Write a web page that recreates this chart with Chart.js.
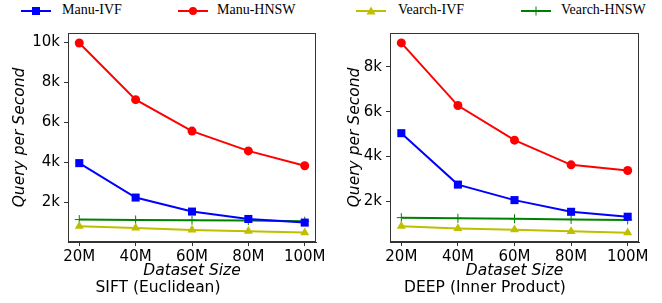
<!DOCTYPE html>
<html>
<head>
<meta charset="utf-8" />
<title>Manu vs Vearch QPS</title>
<script src="https://cdn.jsdelivr.net/npm/chart.js@4.4.0/dist/chart.umd.min.js"></script>
<style>
	body { margin: 0; background: #fff; }
	#page { position: relative; width: 662px; height: 303px; overflow: hidden; }
	.key { position: absolute; top: 0; height: 22px; font: 14px "Liberation Serif", serif; color: #000; }
	.key svg { position: absolute; left: 0; top: 5px; }
	.key span { position: absolute; top: 2px; white-space: nowrap; }
	canvas { position: absolute; top: 20px; }
</style>
</head>
<body>
<div id="page">
	<!-- legend across the top -->
	<div class="key" style="left:21px">
		<svg width="31" height="12"><line x1="0" y1="6" x2="30" y2="6" stroke="#0000ff" stroke-width="2"/><rect x="11" y="2" width="8" height="8" fill="#0000ff"/></svg>
		<span style="left:41px">Manu-IVF</span>
	</div>
	<div class="key" style="left:178px">
		<svg width="31" height="12"><line x1="0" y1="6" x2="30" y2="6" stroke="#ff0000" stroke-width="2"/><circle cx="15" cy="6" r="4" fill="#ff0000"/></svg>
		<span style="left:39px">Manu-HNSW</span>
	</div>
	<div class="key" style="left:356px">
		<svg width="31" height="12"><line x1="0" y1="6" x2="30" y2="6" stroke="#bfbf00" stroke-width="2"/><polygon points="15,1.5 19.5,9.5 10.5,9.5" fill="#bfbf00"/></svg>
		<span style="left:42px">Vearch-IVF</span>
	</div>
	<div class="key" style="left:521px">
		<svg width="31" height="12"><line x1="0" y1="6" x2="30" y2="6" stroke="#008000" stroke-width="2"/><line x1="15" y1="1.5" x2="15" y2="10.5" stroke="#008000" stroke-width="1"/></svg>
		<span style="left:40px">Vearch-HNSW</span>
	</div>

	<canvas id="sift" width="331" height="283" style="left:0px"></canvas>
	<canvas id="deep" width="331" height="283" style="left:331px"></canvas>
</div>

<script>
var sizes = [20, 40, 60, 80, 100]   // dataset size, millions

// SIFT (Euclidean)
var siftManuIVF = [3950, 2230, 1530, 1160, 980]
var siftManuHNSW = [9950, 7120, 5550, 4560, 3820]
var siftVearchIVF = [800, 710, 610, 550, 480]
var siftVearchHNSW = [1130, 1110, 1100, 1080, 1050]

// DEEP (Inner Product)
var deepManuIVF = [5040, 2750, 2060, 1540, 1320]
var deepManuHNSW = [9060, 6270, 4730, 3630, 3380]
var deepVearchIVF = [900, 800, 740, 670, 610]
var deepVearchHNSW = [1280, 1250, 1230, 1200, 1180]

var xTicks = [20, 40, 60, 80, 100]
var siftTicks = [2000, 4000, 6000, 8000, 10000]
var deepTicks = [2000, 4000, 6000, 8000]

function pts(vals) {
	return sizes.map(function (s, i) { return { x: s, y: vals[i] } })
}

function series(label, vals, color, style, r) {
	return {
		label: label,
		data: pts(vals),
		borderColor: color,
		backgroundColor: color,
		borderWidth: 2,
		pointStyle: style,
		pointRadius: r,
		pointBorderWidth: style == 'cross' ? 1 : 0,
		pointBackgroundColor: color,
		pointBorderColor: color
	}
}

// box around the plot area
var frame = {
	id: 'frame',
	afterDraw: function (chart) {
		var a = chart.chartArea, c = chart.ctx
		c.save()
		c.strokeStyle = '#333'
		c.lineWidth = 1
		c.strokeRect(a.left + 0.5, a.top + 0.5, a.right - a.left - 1, a.bottom - a.top - 1)
		c.restore()
	}
}

Chart.defaults.font.family = 'DejaVu Sans'
Chart.defaults.font.size = 15
Chart.defaults.color = '#000'

function makeChart(id, name, d, yMin, yMax, yTicks, yWidth, titlePad, rightPad) {
	return new Chart(document.getElementById(id), {
		type: 'line',
		data: {
			datasets: [
				series('Manu-IVF', d[0], '#0000ff', 'rect', 5.7),
				series('Manu-HNSW', d[1], '#ff0000', 'circle', 4.5),
				series('Vearch-IVF', d[2], '#bfbf00', 'triangle', 5.2),
				series('Vearch-HNSW', d[3], '#008000', 'cross', 4.5)
			]
		},
		options: {
			responsive: false,
			animation: false,
			layout: { padding: { left: 0, right: rightPad, top: 7, bottom: 0 } },
			plugins: {
				legend: { display: false },
				tooltip: { enabled: false },
				title: {
					display: true,
					text: name,
					position: 'bottom',
					font: { size: 15.5, weight: 'normal' },
					color: '#000',
					padding: { top: 0, bottom: 5.4 }
				}
			},
			scales: {
				x: {
					type: 'linear',
					min: 16,
					max: 104,
					afterBuildTicks: function (s) { s.ticks = xTicks.map(function (v) { return { value: v } }) },
					afterFit: function (s) { s.height = 37 },
					ticks: { padding: 2, maxRotation: 0, callback: function (v) { return v + 'M' } },
					grid: { drawOnChartArea: false, drawTicks: true, tickLength: 4, color: '#333' },
					border: { display: true, color: '#333' },
					title: { display: true, text: 'Dataset Size', font: { style: 'italic', size: 15.5, lineHeight: 1 }, padding: { top: 0, bottom: 0 } }
				},
				y: {
					min: yMin,
					max: yMax,
					afterBuildTicks: function (s) { s.ticks = yTicks.map(function (v) { return { value: v } }) },
					afterFit: function (s) { s.width = yWidth },
					ticks: { padding: 4, callback: function (v) { return (v / 1000) + 'k' } },
					grid: { drawOnChartArea: false, drawTicks: true, tickLength: 4, color: '#333' },
					border: { display: true, color: '#333' },
					title: { display: true, text: 'Query per Second', font: { style: 'italic', size: 15.5 }, padding: { top: titlePad, bottom: 0 } }
				}
			}
		},
		plugins: [frame]
	})
}

makeChart('sift', 'SIFT (Euclidean)', [siftManuIVF, siftManuHNSW, siftVearchIVF, siftVearchHNSW], 10, 10450, siftTicks, 68, 10.7, 15)
makeChart('deep', 'DEEP (Inner Product)', [deepManuIVF, deepManuHNSW, deepVearchIVF, deepVearchHNSW], 195, 9500, deepTicks, 59, 14.7, 23)
</script>
</body>
</html>
